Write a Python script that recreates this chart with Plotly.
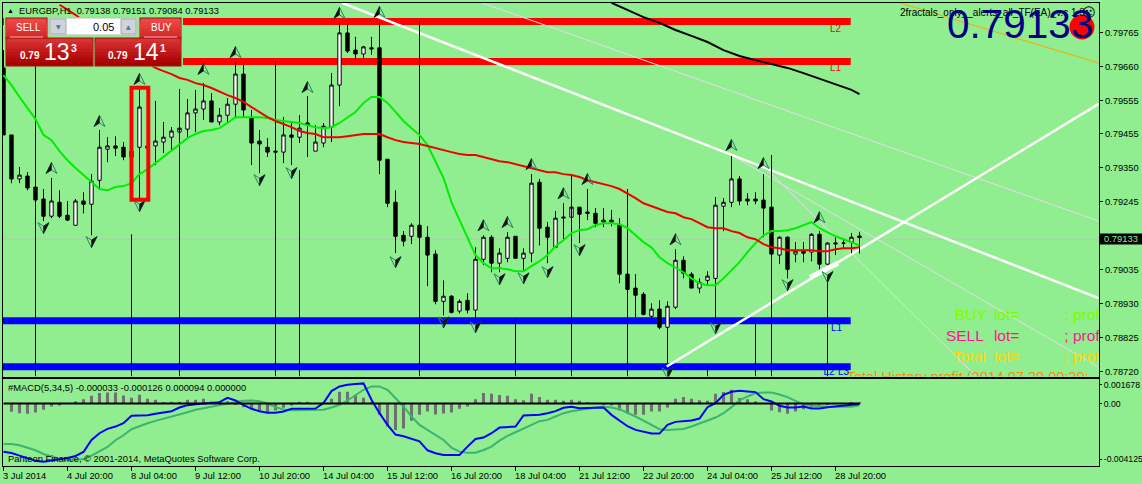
import plotly.graph_objects as go

W, H = 1142, 484
# Prices in 1e-5 units
opens = [79657,79450,79314,79323,79289,79252,79199,79242,79202,79171,79246,79236,79310,79406,79416,79412,79382,79412,79409,79416,
79428,79443,79459,79468,79518,79530,79555,79490,79511,79545,79638,79502,79431,79412,79400,79397,79450,79443,79487,79400,
79425,79474,79604,79765,79712,79700,79719,79719,79375,79242,79140,79137,79171,79134,79082,78936,78952,78906,78939,78909,
79066,79134,79054,79069,79137,79069,79085,79304,79165,79103,79193,79196,79227,79212,79208,79181,79187,79174,79020,78977,
78958,78890,78912,78856,78918,79063,79020,78977,79001,79007,79230,79242,79314,79252,79252,79249,79227,79079,79134,79082,
79091,79088,79143,79051,79113,79116,79119,79138]
highs = [79712,79450,79351,79335,79310,79283,79317,79279,79246,79252,79273,79329,79465,79443,79446,79428,79412,79589,79422,79555,
79490,79474,79480,79561,79589,79610,79579,79533,79564,79675,79666,79527,79465,79440,79400,79505,79490,79511,79570,79480,
79487,79641,79796,79790,79753,79725,79753,79799,79375,79279,79153,79177,79171,79168,79094,79001,78955,78942,78961,79103,
79140,79140,79100,79150,79137,79100,79329,79314,79181,79215,79239,79227,79227,79283,79224,79224,79218,79193,79020,79020,
78964,78930,78939,78936,79097,79075,79026,79007,79029,79258,79255,79385,79323,79270,79273,79329,79388,79137,79137,79119,
79119,79147,79153,79119,79134,79131,79147,79151]
lows = [79450,79301,79301,79279,79230,79184,79193,79193,79184,79171,79208,79140,79286,79366,79385,79372,79378,79255,79400,79357,
79394,79403,79419,79440,79459,79496,79490,79480,79490,79502,79505,79357,79332,79382,79397,79363,79357,79425,79382,79400,
79412,79428,79539,79703,79681,79688,79697,79329,79227,79085,79106,79113,79134,78983,78927,78893,78899,78899,78899,78878,
79048,79026,79026,79057,79069,79032,79057,79109,79054,79103,79128,79196,79116,79187,79165,79165,79168,78992,78973,78887,
78893,78878,78850,78745,78912,79007,78977,78961,78986,78871,79153,79227,79233,79233,79236,79134,79082,79051,79007,79057,
79057,79060,79035,79048,79079,79100,79085,79084]
closes = [79450,79314,79326,79286,79249,79199,79246,79199,79187,79246,79236,79307,79412,79416,79409,79382,79400,79536,79416,79431,
79443,79462,79471,79518,79530,79555,79490,79511,79545,79638,79527,79425,79422,79397,79397,79450,79443,79471,79480,79428,
79477,79604,79765,79709,79700,79722,79716,79372,79239,79137,79122,79171,79134,79079,78936,78952,78902,78936,78909,79066,
79134,79054,79085,79134,79069,79085,79301,79162,79134,79193,79196,79227,79205,79208,79177,79187,79181,79020,78973,78955,
78896,78912,78856,78921,79063,79023,78977,78995,79014,79233,79242,79314,79246,79246,79246,79224,79082,79134,79035,79091,
79085,79143,79051,79116,79116,79116,79134,79133]

green_ma = [79635,79604,79567,79533,79499,79450,79434,79400,79372,79348,79326,79304,79283,79279,79289,79292,79301,79329,79344,79363,
79382,79400,79419,79440,79453,79462,79465,79471,79487,79505,79505,79505,79505,79502,79496,79493,79490,79487,79480,79474,
79471,79474,79487,79505,79521,79549,79567,79567,79549,79521,79493,79471,79450,79419,79366,79317,79242,79187,79131,79079,
79054,79038,79038,79035,79029,79029,79045,79060,79079,79106,79125,79147,79156,79159,79171,79177,79177,79174,79162,79140,
79119,79103,79072,79054,79041,79026,79007,78992,78986,78986,79007,79032,79057,79088,79116,79140,79153,79153,79156,79162,
79171,79181,79162,79150,79137,79128,79119,79109]
red_ma_start = 7
red_ma = [79852,79836,79821,79802,79787,79768,79753,79734,79719,79703,79688,79672,79657,79647,79638,79626,79620,79610,79604,79595,
79583,79573,79564,79552,79536,79521,79505,79493,79484,79474,79462,79456,79453,79443,79443,79443,79446,79450,79453,79453,
79453,79443,79434,79428,79425,79422,79416,79409,79403,79397,79391,79388,79388,79382,79375,79369,79366,79360,79354,79348,
79341,79335,79335,79329,79326,79320,79310,79304,79298,79292,79283,79270,79255,79239,79230,79221,79212,79208,79196,79190,
79177,79165,79162,79162,79153,79147,79134,79128,79113,79103,79100,79094,79094,79094,79094,79091,79091,79097,79100,79100,79103]
black_ma_idx = [76,78,80,82,84,86,88,90,92,94,96,98,100,102,104,106,107]
black_ma = [79858,79836,79814,79796,79774,79756,79737,79712,79694,79681,79669,79657,79641,79623,79607,79589,79576]

fractal_up_idx = [6,12,17,25,29,38,42,47,60,63,66,70,73,84,91,95,102]
fractal_up = [79348,79493,79623,79654,79706,79598,79827,79830,79171,79181,79360,79270,79314,79128,79419,79363,79196]
fractal_dn_idx = [5,11,17,32,36,49,55,59,62,65,68,72,83,89,98,103]
fractal_dn = [79162,79119,79230,79310,79332,79057,78871,78856,79004,79007,79026,79094,78714,78853,78986,79011]

spike_idx = [4,16,22,34,37,52,64,71,78,88,94,96,103]
spike_top = [79675,79143,79592,79678,79341,79802,78881,79329,79283,78735,78878,79388,79011]
price_floor = 78704

level_red = [79800,79677]
level_blue = [78876,78734]
level_end = 105.9

# trend lines: start idx, start price, end idx, end price (1e-5)
white_lines = [(42.3,79858,136.9,78946),(82.9,78735,136.9,79546)]
white_thick = (100.8,79010,104.3,79054)
pale_lines = [(59.8,79858,136.9,79184),(91.0,79388,136.9,78733),(94.9,79357,121.6,78704)]
orange_line = (112.0,79858,136.9,79672)
red_box = (16.0,18.1,79250,79596)

# MACD in 1e-6 units
hist = [0,-618,-717,-767,-668,-470,-223,-148,0,173,321,569,767,816,816,594,420,643,346,272,
99,124,124,272,272,346,148,148,173,-99,-272,-420,-519,-668,-519,-321,-148,124,124,25,
25,346,866,866,643,420,74,-841,-1706,-1954,-1855,-1286,-841,-594,-816,-742,-668,-396,-223,321,
767,717,618,569,321,247,717,470,272,272,198,272,198,74,0,-124,-148,-519,-767,-841,
-841,-594,-594,-297,346,470,346,247,198,717,841,1014,396,321,173,0,-519,-643,-767,-594,
-420,-272,-99,-50,30,-10,60,94]
macd = [-3561,-3660,-3858,-4056,-4229,-4303,-4229,-4130,-4031,-3883,-3586,-2696,-2201,-1879,-1706,-1459,-915,-890,-866,-767,
-668,-569,-297,-124,-49,0,25,99,420,223,-99,-396,-569,-692,-692,-594,-396,-396,-371,-371,
25,915,1261,1385,1434,1484,272,-717,-1583,-2300,-2424,-2621,-2794,-3462,-3685,-3808,-3808,-3808,-3190,-2621,
-2522,-2201,-1781,-1756,-1706,-890,-866,-841,-717,-569,-321,-247,-346,-346,-321,-297,-841,-1261,-1682,-1954,
-2102,-2226,-2226,-1583,-1360,-1311,-1261,-1113,-272,25,643,866,940,890,841,321,148,-173,-297,-297,
-223,-371,-371,-272,-223,-124,-74,-33]
signal = [-2992,-2992,-3091,-3264,-3462,-3734,-3932,-4105,-4179,-4179,-4130,-3858,-3561,-3215,-2720,-2349,-1904,-1657,-1459,-1286,
-1138,-964,-791,-643,-470,-346,-223,-99,25,99,198,223,173,0,-272,-445,-495,-495,-495,-495,
-470,-297,-99,223,643,1014,1261,1261,1014,396,-223,-964,-1583,-1954,-2325,-2696,-3264,-3561,-3635,-3635,
-3437,-3190,-2745,-2399,-2127,-1879,-1583,-1311,-1212,-964,-717,-569,-470,-396,-297,-247,-297,-420,-668,-964,
-1261,-1583,-1904,-1954,-1929,-1879,-1706,-1459,-1261,-1039,-717,-272,223,519,767,816,816,668,470,198,
-49,-148,-223,-247,-247,-247,-247,-126]

y_tick_vals = [79765,79660,79555,79455,79350,79245,79035,78930,78825,78720]
y_tick_text = ["0.79765","0.79660","0.79555","0.79455","0.79350","0.79245","0.79035","0.78930","0.78825","0.78720"]
macd_tick_vals = [1390,0,-4125]
macd_tick_text = ["0.001678","0.00","-0.004125"]
time_idx = [0,8,16,24,32,40,48,56,64,72,80,88,96,104]
time_text = ["3 Jul 2014","4 Jul 20:00","8 Jul 04:00","9 Jul 12:00","10 Jul 20:00","14 Jul 04:00","15 Jul 12:00",
             "16 Jul 20:00","18 Jul 04:00","21 Jul 12:00","22 Jul 20:00","24 Jul 04:00","25 Jul 12:00","28 Jul 20:00"]
bid_line = 79128

BG = "#90EE90"
AXF = "Liberation Sans"
AX_SIZE = 9.4
ARIAL = "Liberation Sans"

def P(v): return [a / 1e5 for a in v]
def M(v): return [a / 1e6 for a in v]
def px(x): return x / W
def py(y): return 1 - y / H

X_LEFT, X_RIGHT = 2.5, 1099.0
X_STEP = 8.0                  # pixels between bars
PIX_PER_POINT = 1 / 3.092     # pixels per 1e-5 of price
x_range = [-0.125, -0.125 + (X_RIGHT - X_LEFT) / X_STEP]

idx = list(range(len(opens)))
fig = go.Figure()
fig.add_trace(go.Candlestick(x=idx, open=P(opens), high=P(highs), low=P(lows), close=P(closes),
    increasing=dict(line=dict(color="black", width=1), fillcolor="white"),
    decreasing=dict(line=dict(color="black", width=1), fillcolor="black"),
    whiskerwidth=0, xaxis="x", yaxis="y", hoverinfo="skip"))
sx, sy = [], []
for i, t in zip(spike_idx, spike_top):
    sx += [i, i, None]; sy += [t / 1e5, price_floor / 1e5, None]
fig.add_trace(go.Scatter(x=sx, y=sy, mode="lines", line=dict(color="black", width=1), xaxis="x", yaxis="y"))
fig.add_trace(go.Scatter(x=black_ma_idx, y=P(black_ma), mode="lines", line=dict(color="black", width=2), xaxis="x", yaxis="y"))
fig.add_trace(go.Scatter(x=idx, y=P(green_ma), mode="lines", line=dict(color="#00EE00", width=2), xaxis="x", yaxis="y"))
fig.add_trace(go.Scatter(x=list(range(red_ma_start, red_ma_start + len(red_ma))), y=P(red_ma), mode="lines",
                         line=dict(color="#F00000", width=2), xaxis="x", yaxis="y"))

# fractal darts, built around each fractal value
DW, DH, DN = 5.5, 5.5, 2.0    # half width, half height, notch (pixels)
def dart(i, p, sgn, half):
    # sgn=+1 points up, -1 points down; half fills only the dark side
    pts = [(0, DH), (-DW, -DH), (0, -DN)] if half else [(0, DH), (-DW, -DH), (0, -DN), (DW, -DH)]
    xs, ys = [], []
    for a, b in pts:
        xs.append(i + sgn * a / X_STEP)
        ys.append((p + sgn * b / PIX_PER_POINT) / 1e5)
    return xs + [xs[0], None], ys + [ys[0], None]
ox, oy, hx, hy = [], [], [], []
for i, p in list(zip(fractal_up_idx, fractal_up)):
    a, b = dart(i, p, 1, False); ox += a; oy += b
    a, b = dart(i, p, 1, True); hx += a; hy += b
for i, p in list(zip(fractal_dn_idx, fractal_dn)):
    a, b = dart(i, p, -1, False); ox += a; oy += b
    a, b = dart(i, p, -1, True); hx += a; hy += b
fig.add_trace(go.Scatter(x=ox, y=oy, mode="lines", line=dict(color="#2f7f6a", width=1), xaxis="x", yaxis="y"))
fig.add_trace(go.Scatter(x=hx, y=hy, mode="lines", fill="toself", fillcolor="#101010", line=dict(color="#101010", width=0.5), xaxis="x", yaxis="y"))

# clipped panel texts
def ctext(i, p, s, color, size):
    fig.add_trace(go.Scatter(x=[i], y=[p / 1e5], mode="text", text=[s], textposition="middle right", cliponaxis=True,
                             textfont=dict(family=ARIAL, size=size, color=color), xaxis="x", yaxis="y"))
for ix, s, p, c in [(118.9,"BUY",78890,"#7CFC00"),(123.8,"lot=",78890,"#7CFC00"),(132.6,"; prof",78890,"#7CFC00"),
                    (117.8,"SELL",78825,"#FF1493"),(123.8,"lot=",78825,"#FF1493"),(132.6,"; prof",78825,"#FF1493"),
                    (118.7,"Total",78762,"#FFD700"),(123.8,"lot=",78762,"#FFD700"),(132.6,"; prof",78762,"#FFD700")]:
    ctext(ix, p, s, c, 15.5)
ctext(105.4, 78698, "Total History profit (2014.07.20 00:20:", "#FF8C00", 14.5)
ctext(102.5, 78715, "L2", "#0000FF", 10)
ctext(104.3, 78715, "L3", "#0000FF", 10)

# MACD
fig.add_trace(go.Bar(x=idx, y=M(hist), width=0.38, marker=dict(color="#707070", line=dict(width=0)), xaxis="x2", yaxis="y2"))
fig.add_trace(go.Scatter(x=idx, y=M(signal), mode="lines", line=dict(color="#3CB371", width=2), xaxis="x2", yaxis="y2"))
fig.add_trace(go.Scatter(x=idx, y=M(macd), mode="lines", line=dict(color="#0000FF", width=2), xaxis="x2", yaxis="y2"))
fig.add_trace(go.Scatter(x=idx, y=[0]*len(idx), mode="lines", line=dict(color="black", width=2), xaxis="x2", yaxis="y2"))

shapes = []
def dline(x0, p0, x1, p1, color, width, layer="below"):
    shapes.append(dict(type="line", xref="x", yref="y", x0=x0, x1=x1, y0=p0/1e5, y1=p1/1e5, layer=layer,
                       line=dict(color=color, width=width)))
dline(x_range[0], bid_line, x_range[1], bid_line, "#C0C0C0", 1)
for p in level_red: dline(-0.1, p, level_end, p, "#FF0000", 7)
for p in level_blue: dline(-0.1, p, level_end, p, "#0000FF", 7)
for l in pale_lines: dline(*l, "#E4DCE8", 1)
dline(*orange_line, "#FFA500", 1)
for l in white_lines: dline(*l, "#FFFFFF", 2.5)
dline(*white_thick, "#FFFFFF", 5)
shapes.append(dict(type="rect", xref="x", yref="y", x0=red_box[0], x1=red_box[1], y0=red_box[2]/1e5, y1=red_box[3]/1e5,
                   line=dict(color="#FF0000", width=4), layer="above"))

def prect(x0, y0, x1, y1, fill, line=None):
    shapes.append(dict(type="rect", xref="paper", yref="paper", x0=px(x0), x1=px(x1), y0=py(y1), y1=py(y0),
                       fillcolor=fill, line=dict(color=line or fill, width=1 if line else 0), layer="above"))
# trade panel
prect(4, 17, 183, 66.5, BG)
def gradient(x0, y0, x1, y1, top, bottom, n=8):
    ct = [int(top[k:k+2], 16) for k in (1,3,5)]
    cb = [int(bottom[k:k+2], 16) for k in (1,3,5)]
    prect(x0 - 0.5, y0 - 0.5, x1 + 0.5, y1 + 0.5, "#9a1010")
    for s in range(n):
        f = s / (n - 1)
        c = "#%02x%02x%02x" % tuple(int(a + (b - a) * f) for a, b in zip(ct, cb))
        prect(x0 + 0.5, y0 + 0.5 + (y1 - y0 - 1) * s / n, x1 - 0.5, y1 - 0.5, c)
gradient(6, 18, 47, 38, "#f04848", "#d42a2a")
gradient(140, 18, 181, 38, "#f04848", "#d42a2a")
gradient(6, 38, 93, 66, "#d83232", "#a80000")
gradient(95, 38, 181, 66, "#d83232", "#a80000")
prect(10, 36.5, 43, 37.5, "#f4b0b0")
prect(144, 36.5, 177, 37.5, "#f4b0b0")
prect(49, 18, 137, 35, "#ffffff", "#bdbdbd")
prect(50, 19, 66, 34, "#cfd3dc", "#a8a8a8")
prect(121, 19, 136, 34, "#cfd3dc", "#a8a8a8")
# red circle
shapes.append(dict(type="circle", xref="paper", yref="paper", x0=px(1069.5), x1=px(1094.5), y0=py(39.5), y1=py(14.5),
                   fillcolor="#FF0000", line=dict(width=0), layer="above"))

ann = []
def atext(x, y, s, color="black", size=AX_SIZE, anchor="left", family=AXF, bold=False):
    ann.append(dict(xref="paper", yref="paper", x=px(x), y=py(y), text=("<b>%s</b>" % s) if bold else s, showarrow=False,
                    xanchor=anchor, yanchor="middle", font=dict(family=family, size=size, color=color)))
atext(5, 10.5, "▲", size=7)
atext(16.5, 10.5, "EURGBP,H1  0.79138 0.79151 0.79084 0.79133", size=9.3)
atext(898, 12, "2fractals_only__alerts_all_TF(EA)_v.c 1.3", size=10)
atext(1089, 12, "☺", size=13, anchor="center", family="DejaVu Sans")
atext(945, 24, "0.79133", "#000080", 40.5)
atext(828, 28, "L2", "#FF0000", 10)
atext(828, 67, "L1", "#FF0000", 10)
atext(828.5, 327, "L1", "#0000FF", 10)
atext(5.5, 387, "#MACD(5,34,5) -0.000033 -0.000126 0.000094 0.000000", size=AX_SIZE)
atext(5.5, 458, "Panteon Finance, © 2001-2014, MetaQuotes Software Corp.", size=AX_SIZE)
for i, s in zip(time_idx, time_text):
    ann.append(dict(xref="x2", yref="paper", x=i, y=py(475.5), text=s, showarrow=False, xanchor="left", xshift=-3, yanchor="middle",
                    font=dict(family=AXF, size=AX_SIZE, color="black")))
# bid tag
prect(1100, 233.5, 1142, 244.5, "#000000")
atext(1102, 239, "0.79133", BG, AX_SIZE)
# trade panel text
atext(14, 27.5, "SELL", "white", 10)
atext(149, 27.5, "BUY", "white", 10)
atext(18, 55.5, "0.79", "white", 10, bold=True)
atext(42, 52, "13", "white", 23)
atext(68.5, 48, "3", "white", 10.5, bold=True)
atext(105.5, 55.5, "0.79", "white", 10, bold=True)
atext(131, 52, "14", "white", 23)
atext(158, 48, "1", "white", 10.5, bold=True)
atext(116, 27, "0.05", "black", 11, anchor="right")
atext(58, 27, "▼", "#5a6a9a", 6, anchor="center", family="DejaVu Sans")
atext(128.5, 27, "▲", "#5a6a9a", 6, anchor="center", family="DejaVu Sans")

fig.update_layout(
    width=W, height=H, margin=dict(l=0, r=0, t=0, b=0, autoexpand=False),
    paper_bgcolor=BG, plot_bgcolor=BG, showlegend=False, boxgap=0.4,
    shapes=shapes, annotations=ann,
    xaxis=dict(domain=[px(X_LEFT), px(X_RIGHT)], range=x_range, rangeslider=dict(visible=False), showgrid=False, zeroline=False,
               showticklabels=False, ticks="", showline=True, linecolor="black", linewidth=1, mirror=True, anchor="y"),
    yaxis=dict(domain=[py(376.5), py(2.5)], range=[price_floor/1e5, 0.79859], side="right", anchor="x", showgrid=False, zeroline=False,
               tickmode="array", tickvals=P(y_tick_vals), ticktext=y_tick_text, ticks="outside", ticklen=3, tickcolor="black",
               tickfont=dict(family=AXF, size=AX_SIZE, color="black"), showline=True, linecolor="black", linewidth=1, mirror=True),
    xaxis2=dict(domain=[px(X_LEFT), px(X_RIGHT)], range=x_range, showgrid=False, zeroline=False, anchor="y2",
                tickmode="array", tickvals=time_idx, ticktext=[""]*len(time_idx), ticks="outside", ticklen=4, tickcolor="black",
                showline=True, linecolor="black", linewidth=1, mirror=True),
    yaxis2=dict(domain=[py(466), py(379)], range=[-0.004623, 0.00181], side="right", anchor="x2", showgrid=False, zeroline=False,
                tickmode="array", tickvals=M(macd_tick_vals), ticktext=macd_tick_text, ticks="outside", ticklen=2, tickcolor="black",
                tickfont=dict(family=AXF, size=8.7, color="black"), showline=True, linecolor="black", linewidth=1, mirror=True),
)
fig.write_html("out.html", config=dict(displayModeBar=False),
               post_script="document.body.style.margin='0';document.body.style.overflow='hidden';window.dispatchEvent(new Event('resize'));")
